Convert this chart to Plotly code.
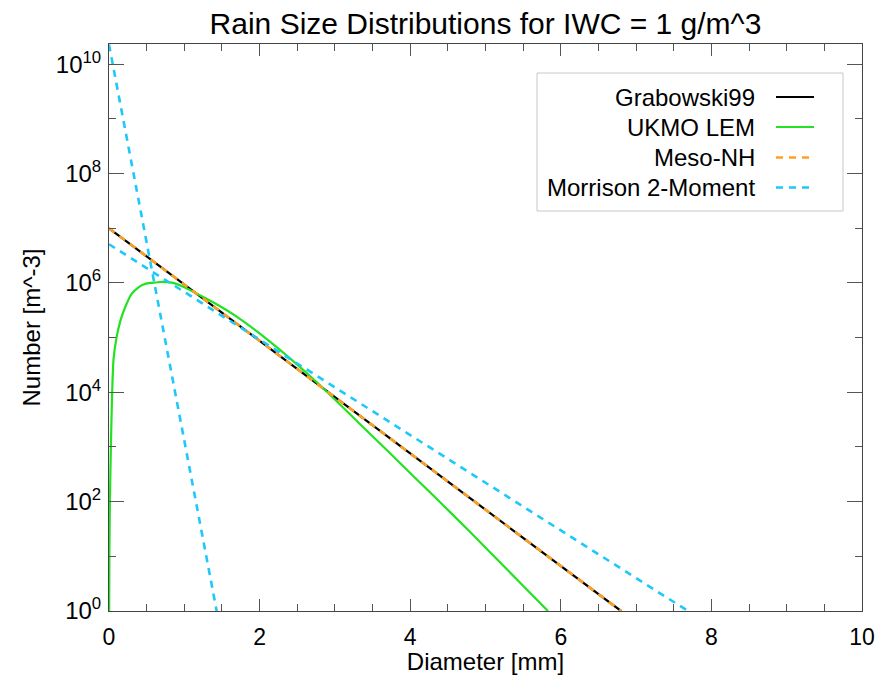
import plotly.graph_objects as go

# Diameter [mm] / number concentration [m^-3] for each scheme
grabowski_d = [0.0, 6.8]
grabowski_n = [1.0e7, 1.0]

mesonh_d = [0.0, 6.8]
mesonh_n = [1.0e7, 1.0]

morrison_small_d = [0.0, 1.43]
morrison_small_n = [2.3e10, 1.0]

morrison_large_d = [0.0, 7.69]
morrison_large_n = [5.1e6, 1.0]

ukmo_d = [0.002, 0.005, 0.012, 0.025, 0.042, 0.06, 0.1, 0.15, 0.2, 0.3, 0.4,
          0.45, 0.55, 0.62, 0.7, 0.85, 1.0, 1.2, 1.4, 1.7, 2.1, 2.5, 2.9, 3.3,
          3.8, 4.3, 4.8, 5.3, 5.83]
ukmo_n = [1.0, 1.0e1, 1.0e2, 1.0e3, 1.0e4, 4.0e4, 1.0e5, 2.0e5, 3.2e5, 6.3e5,
          8.5e5, 9.3e5, 1.0e6, 1.02e6, 1.05e6, 1.0e6, 8.3e5, 6.0e5, 4.3e5,
          2.4e5, 9.3e4, 3.2e4, 1.0e4, 2.9e3, 6.2e2, 1.32e2, 2.75e1, 5.5, 1.0]

# y tick positions and their labels (10^0 ... 10^10)
y_tick_vals = [1e0, 1e2, 1e4, 1e6, 1e8, 1e10]
y_tick_text = ["10<sup>0</sup>", "10<sup>2</sup>", "10<sup>4</sup>",
               "10<sup>6</sup>", "10<sup>8</sup>", "10<sup>10</sup>"]

series = [
    ("Grabowski99", grabowski_d, grabowski_n, "#000000", "solid", 2.2),
    ("UKMO LEM", ukmo_d, ukmo_n, "#22e222", "solid", 2.2),
    ("Meso-NH", mesonh_d, mesonh_n, "#ffa020", "7px,6px", 2.6),
    ("Morrison 2-Moment", morrison_small_d, morrison_small_n, "#1ec8fa", "7px,6px", 2.6),
]

FONT = "Liberation Sans, Arial, Helvetica, sans-serif"
W, H = 895, 675
L, R, T, B = 109, 862, 44, 611


def px(x):
    return (x - L) / (R - L)


def py(y):
    return (B - y) / (B - T)


fig = go.Figure()
for name, d, n, color, dash, width in series:
    fig.add_trace(go.Scatter(
        x=d, y=n, mode="lines", name=name,
        line=dict(color=color, dash=dash, width=width,
                  shape="spline" if name == "UKMO LEM" else "linear",
                  smoothing=0.5),
        showlegend=False,
    ))
# second Morrison curve (large-drop mode)
fig.add_trace(go.Scatter(
    x=morrison_large_d, y=morrison_large_n, mode="lines",
    line=dict(color="#1ec8fa", dash="7px,6px", width=2.6), showlegend=False,
))

# legend drawn as a box with right-aligned labels and line samples on the right
shapes = [dict(type="rect", xref="paper", yref="paper",
               x0=px(537), x1=px(843), y0=py(211), y1=py(73),
               line=dict(color="#c8c8c8", width=1), fillcolor="white", layer="above")]
annotations = []
row_y = [97, 127, 157.5, 187.5]
for (name, _, _, color, dash, width), yy in zip(series, row_y):
    shapes.append(dict(type="line", xref="paper", yref="paper",
                       x0=px(776), x1=px(814), y0=py(yy), y1=py(yy),
                       line=dict(color=color, dash=dash, width=width), layer="above"))
    annotations.append(dict(text=name, xref="paper", yref="paper",
                            x=px(757), y=py(yy), xanchor="right", yanchor="middle",
                            showarrow=False, font=dict(size=24, color="black", family=FONT)))

axis_common = dict(
    showline=True, linecolor="#444", linewidth=1, mirror="ticks",
    ticks="inside", tickcolor="#555", tickwidth=1, showgrid=False, zeroline=False,
    automargin=False,
)

fig.update_layout(
    width=W, height=H,
    margin=dict(l=L, r=W - R, t=T, b=H - B),
    paper_bgcolor="white", plot_bgcolor="white",
    font=dict(family=FONT, color="black"),
    title=dict(text="Rain Size Distributions for IWC = 1 g/m^3",
               x=0.5, xref="paper", xanchor="center",
               y=1 - 23 / H, yref="container", yanchor="middle",
               font=dict(size=30, family=FONT, color="black")),
    xaxis=dict(range=[0, 10], dtick=2, ticklen=12,
               tickfont=dict(size=23, color="black", family=FONT),
               minor=dict(dtick=0.5, ticklen=7, ticks="inside", tickcolor="#555"),
               title=dict(text="Diameter [mm]", font=dict(size=24, family=FONT), standoff=4),
               ticklabelstandoff=5,
               **axis_common),
    yaxis=dict(type="log", range=[0, 10.37], tickvals=y_tick_vals, ticktext=y_tick_text,
               ticklen=15,
               tickfont=dict(size=24, color="black", family=FONT),
               minor=dict(dtick=1, ticklen=7, ticks="inside", tickcolor="#555"),
               title=dict(text="Number [m^-3]", font=dict(size=24, family=FONT), standoff=8),
               ticklabelstandoff=2,
               **axis_common),
    shapes=shapes,
    annotations=annotations,
)

fig.write_html("out.html")
